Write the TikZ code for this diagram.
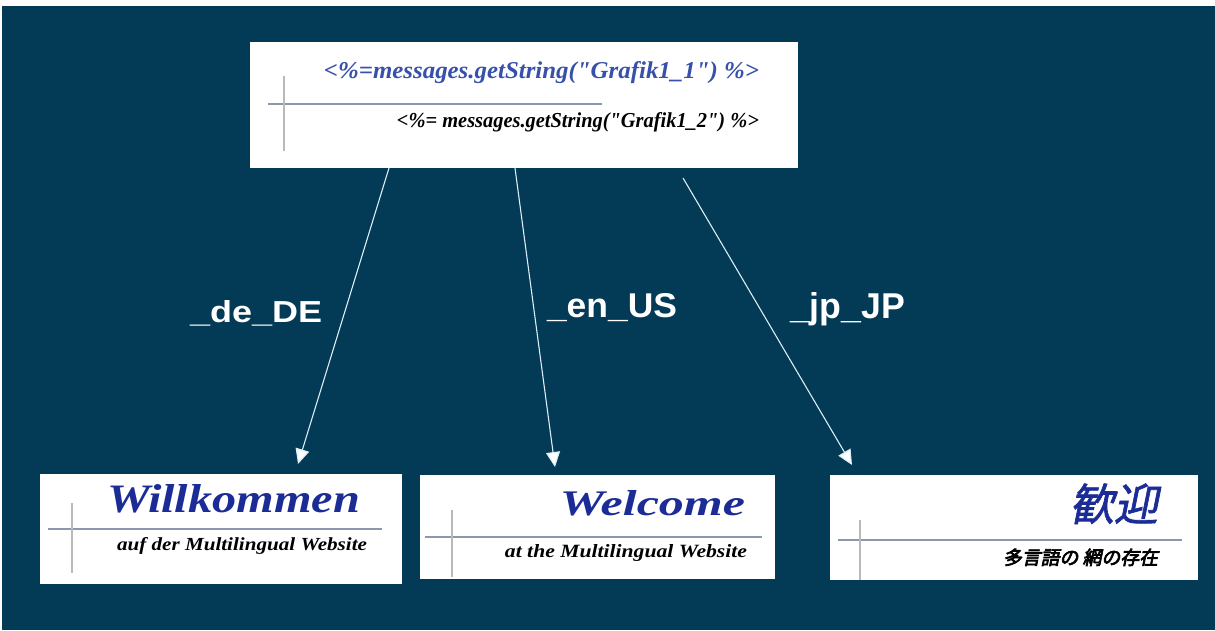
\documentclass[tikz,border=0pt]{standalone}
\usepackage{fontspec}
\usepackage{graphicx}
\setmainfont{Liberation Serif}
\newfontfamily\lblfont{Liberation Sans}
\newfontfamily\jpfont{Noto Sans CJK JP}[FakeSlant=0.2,FakeBold=1.5]
\newfontfamily\jpboldfont{Noto Sans CJK JP}[FakeSlant=0.2,FakeBold=3.5]
\usetikzlibrary{arrows.meta}
\definecolor{bgteal}{RGB}{3,59,86}
\definecolor{titleblue}{RGB}{28,44,150}
\definecolor{codeblue}{RGB}{55,80,170}
\definecolor{rulegray}{RGB}{140,150,172}
\definecolor{arrowcol}{RGB}{220,238,245}
\begin{document}
\begin{tikzpicture}[x=1pt,y=-1pt,
  card/.style={fill=white, draw=none, inner sep=0pt, anchor=north west},
  hrule/.style={rulegray, line width=1.6pt},
  vrule/.style={gray!55, line width=1.2pt},
  txt/.style={inner sep=0pt, outer sep=0pt},
  conn/.style={arrowcol, line width=1.1pt, -{Triangle[length=15pt,width=14pt,fill=white]}},
  lbl/.style={inner sep=0pt, outer sep=0pt, text=white, font=\lblfont\bfseries},
  titletxt/.style={txt, text=titleblue, font=\bfseries\itshape},
  subtxt/.style={txt, text=black, font=\bfseries\itshape}
]
\fill[white] (0,0) rectangle (1215,630);
\fill[bgteal] (2,6) rectangle (1215,630);
\useasboundingbox (0,0) rectangle (1215,630);

% top card
\node[card, minimum width=548pt, minimum height=126pt] (top) at (250,42) {};
\draw[hrule] (268,104) -- (602,104);
\draw[vrule] (284,76) -- (284,151);
\node[txt, anchor=base east, text=codeblue, font=\bfseries\itshape] (t1) at (759,78)
  {\resizebox{435pt}{17pt}{<\%=messages.getString(\textquotedbl Grafik1\_1\textquotedbl) \%>}};
\node[subtxt, anchor=base east] (t2) at (759,127)
  {\resizebox{362pt}{15pt}{<\%= messages.getString(\textquotedbl Grafik1\_2\textquotedbl) \%>}};

% German card
\node[card, minimum width=362pt, minimum height=110pt] (de) at (40,474) {};
\draw[hrule] (48,529) -- (382,529);
\draw[vrule] (72,503) -- (72,573);
\node[titletxt, anchor=base west] (deT) at (107,512) {\resizebox{253pt}{28pt}{Willkommen}};
\node[subtxt, anchor=base west] (deS) at (117,550) {\resizebox{250pt}{13pt}{auf der Multilingual Website}};

% English card
\node[card, minimum width=355pt, minimum height=104pt] (en) at (420,475) {};
\draw[hrule] (425,537) -- (762,537);
\draw[vrule] (452,510) -- (452,577);
\node[titletxt, anchor=base east] (enT) at (745,515) {\resizebox{185pt}{25pt}{Welcome}};
\node[subtxt, anchor=base east] (enS) at (747,557) {\resizebox{242pt}{13pt}{at the Multilingual Website}};

% Japanese card
\node[card, minimum width=368pt, minimum height=105pt] (jp) at (830,475) {};
\draw[hrule] (838,540) -- (1182,540);
\draw[vrule] (860,520) -- (860,580);
\node[txt, anchor=south east, text=titleblue, font=\jpfont] (jpT) at (1158,524) {\resizebox{88pt}{!}{歓迎}};
\node[txt, anchor=south east, text=black, font=\jpboldfont] (jpS) at (1158,566) {\resizebox{155pt}{!}{多言語の 網の存在}};

% connectors
\coordinate (s1) at (389,168);
\coordinate (s2) at (515,168);
\coordinate (s3) at (683,178);
\coordinate (e1) at (298,464);
\coordinate (e2) at (555,467);
\coordinate (e3) at (852,465);
\draw[conn] (s1) -- (e1);
\draw[conn] (s2) -- (e2);
\draw[conn] (s3) -- (e3);

% labels
\node[lbl, anchor=base west] (l1) at (190,322) {\resizebox{132pt}{22pt}{\_de\_DE}};
\node[lbl, anchor=base west] (l2) at (547,317) {\resizebox{130pt}{24pt}{\_en\_US}};
\node[lbl, anchor=base west] (l3) at (790,318) {\resizebox{115pt}{26pt}{\_jp\_JP}};
\end{tikzpicture}
\end{document}
